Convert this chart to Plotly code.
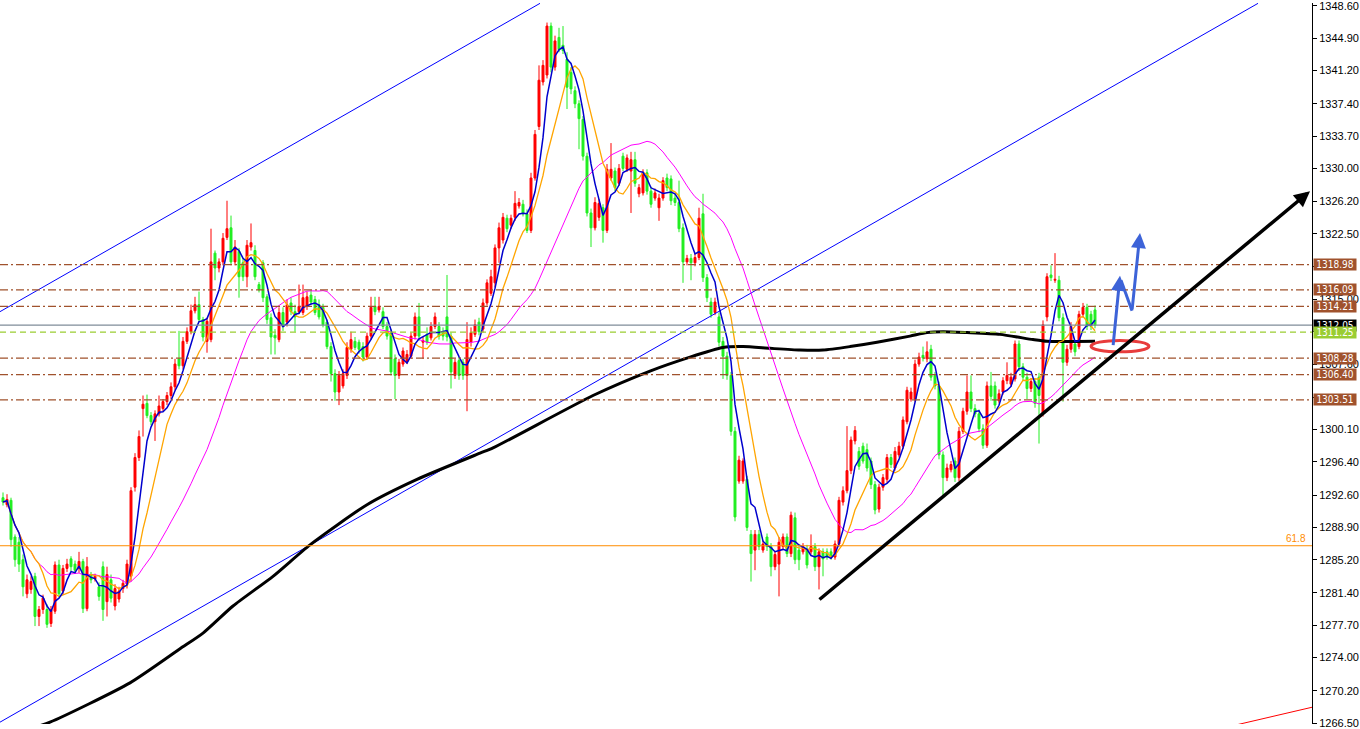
import plotly.graph_objects as go
import pandas as pd

# ---------------- data ----------------
opens = [
1292.3,1291.5,1292.0,1287.8,1287.2,1285.2,1281.3,1281.8,1283.3,1278.7,
1279.5,1279.5,1277.9,1279.3,1284.6,1281.6,1284.2,1285.3,1284.7,1284.2,
1285.0,1279.6,1283.5,1283.0,1282.1,1284.4,1280.4,1282.9,1279.9,1280.7,
1281.9,1282.4,1283.3,1293.5,1296.9,1302.5,1303.1,1301.7,1301.0,1301.9,
1302.5,1303.3,1304.0,1305.0,1308.2,1307.4,1310.2,1311.3,1313.7,1314.4,
1312.7,1310.2,1310.4,1320.3,1318.6,1319.3,1322.1,1323.2,1319.3,1320.5,
1319.2,1317.6,1321.0,1320.6,1316.7,1319.2,1315.3,1312.9,1310.9,1310.4,
1313.5,1312.4,1314.6,1313.6,1313.6,1313.5,1314.2,1315.5,1315.0,1314.4,
1314.1,1312.4,1309.6,1306.5,1304.4,1305.1,1306.3,1309.3,1310.2,1310.1,
1309.6,1308.4,1310.8,1314.2,1313.8,1313.6,1311.9,1311.2,1308.2,1306.3,
1307.6,1307.9,1308.5,1310.8,1313.0,1310.1,1311.0,1310.6,1311.9,1311.9,
1311.3,1313.0,1310.8,1306.3,1308.0,1307.8,1306.3,1310.1,1311.0,1312.4,
1311.6,1314.6,1315.7,1316.9,1320.9,1321.8,1324.3,1323.5,1324.4,1325.7,
1325.9,1324.8,1322.9,1328.9,1334.8,1339.9,1340.7,1346.3,1341.6,1345.0,
1344.1,1342.5,1341.0,1338.9,1337.4,1335.6,1331.4,1324.9,1323.2,1324.4,
1325.5,1322.9,1328.9,1329.7,1328.3,1331.4,1329.9,1329.7,1331.0,1327.1,
1327.2,1329.5,1327.4,1326.6,1325.5,1326.6,1328.9,1328.8,1326.6,1326.1,
1323.2,1319.3,1319.7,1319.2,1319.8,1324.8,1317.5,1314.7,1313.5,1313.0,
1310.2,1308.5,1306.3,1299.9,1294.2,1294.2,1294.4,1288.1,1286.3,1288.1,
1286.3,1287.8,1286.7,1284.4,1284.7,1286.7,1287.8,1285.9,1290.0,1286.3,
1286.1,1286.4,1286.1,1286.7,1284.4,1286.1,1286.1,1286.1,1285.5,1287.0,
1291.8,1293.1,1295.4,1298.8,1297.6,1298.2,1297.8,1296.5,1293.8,1291.0,
1293.5,1294.4,1296.9,1295.7,1297.2,1298.2,1301.0,1303.6,1303.6,1307.6,
1308.6,1308.2,1309.3,1306.3,1305.1,1297.2,1294.6,1295.5,1296.5,1294.6,
1299.9,1302.2,1304.4,1302.5,1301.9,1300.2,1298.3,1305.1,1305.1,1303.4,
1304.4,1305.7,1305.3,1305.9,1309.9,1307.3,1306.1,1304.8,1305.6,1306.1,
1301.9,1313.0,1317.8,1317.2,1317.2,1312.9,1307.8,1309.3,1309.9,1309.6,
1313.3,1314.1,1313.3,1313.8]

closes = [
1291.8,1292.1,1287.5,1285.2,1284.7,1282.1,1282.9,1282.7,1278.7,1279.5,
1280.8,1277.8,1279.5,1284.6,1281.3,1284.2,1284.7,1284.4,1284.0,1285.0,
1279.6,1284.4,1282.9,1283.3,1281.0,1279.5,1283.5,1280.8,1281.9,1281.6,
1282.5,1284.7,1293.1,1296.9,1299.3,1303.0,1301.7,1301.0,1301.9,1302.8,
1303.3,1304.0,1305.0,1307.6,1307.4,1310.2,1311.3,1313.7,1314.4,1312.7,
1310.7,1312.5,1319.3,1318.6,1319.3,1322.0,1323.1,1319.3,1321.0,1317.6,
1317.6,1321.2,1321.5,1317.6,1316.1,1315.2,1312.7,1310.7,1310.6,1313.5,
1311.9,1314.4,1313.6,1313.0,1314.2,1315.2,1315.3,1314.7,1313.5,1313.0,
1312.1,1309.6,1306.5,1304.4,1306.3,1306.5,1309.5,1310.4,1309.5,1309.3,
1308.4,1310.8,1314.1,1313.6,1314.2,1311.9,1310.8,1306.7,1306.3,1307.8,
1309.1,1308.7,1310.8,1313.0,1310.8,1310.3,1310.1,1311.9,1313.0,1310.8,
1310.8,1310.7,1306.7,1307.8,1306.3,1306.3,1310.4,1311.2,1312.1,1311.3,
1314.6,1316.9,1317.6,1320.9,1323.2,1324.4,1323.1,1324.3,1326.0,1326.1,
1324.8,1322.9,1328.9,1333.9,1340.1,1341.8,1346.3,1341.6,1344.6,1343.6,
1343.5,1339.3,1339.1,1337.4,1335.7,1331.4,1324.9,1323.2,1326.1,1326.0,
1322.9,1329.9,1329.9,1327.8,1330.0,1330.0,1331.2,1331.0,1328.3,1327.8,
1329.5,1327.4,1325.9,1327.2,1326.6,1328.6,1327.8,1326.3,1326.1,1323.1,
1319.3,1319.7,1319.2,1319.8,1324.3,1317.5,1315.2,1313.3,1314.7,1310.1,
1308.5,1306.3,1299.9,1290.1,1296.6,1296.5,1288.9,1285.9,1288.1,1286.7,
1287.0,1286.7,1284.4,1285.8,1287.2,1287.8,1285.9,1290.3,1285.2,1285.2,
1286.7,1284.6,1286.7,1284.4,1286.1,1285.3,1285.5,1285.5,1287.0,1292.0,
1293.1,1295.4,1298.9,1300.0,1295.9,1296.5,1295.7,1293.8,1290.9,1293.5,
1294.6,1296.9,1296.1,1297.6,1298.2,1301.2,1304.6,1304.4,1307.6,1308.4,
1308.3,1309.0,1306.1,1305.1,1297.2,1294.6,1295.7,1296.1,1294.6,1299.9,
1302.2,1304.4,1302.5,1301.9,1300.2,1298.3,1305.1,1303.9,1302.9,1304.2,
1305.7,1306.3,1306.1,1309.9,1307.3,1306.1,1304.8,1305.6,1303.1,1304.0,
1312.1,1317.6,1317.5,1317.3,1312.9,1307.8,1309.3,1311.9,1309.0,1313.3,
1314.1,1311.9,1311.9,1312.05]

highs = [
1292.9,1292.7,1292.3,1288.1,1287.8,1285.8,1283.5,1283.3,1283.7,1279.9,
1281.2,1280.1,1279.9,1285.0,1285.2,1284.6,1285.3,1285.6,1285.1,1286.1,
1285.3,1285.5,1283.8,1283.6,1282.6,1285.0,1284.4,1283.5,1282.4,1282.1,
1282.9,1285.2,1293.5,1297.4,1300.0,1304.0,1304.1,1302.1,1302.3,1304.0,
1303.6,1304.4,1305.5,1308.2,1311.4,1310.7,1311.8,1314.4,1315.3,1315.9,
1313.0,1312.9,1323.1,1320.6,1319.7,1322.6,1326.3,1324.6,1321.8,1320.9,
1319.7,1321.8,1323.7,1321.2,1317.0,1319.5,1315.6,1313.4,1311.6,1314.1,
1314.1,1315.0,1315.2,1314.4,1316.7,1316.7,1315.9,1316.1,1315.4,1315.0,
1314.5,1312.7,1310.1,1307.0,1306.8,1307.0,1310.1,1311.3,1310.7,1310.4,
1310.1,1311.2,1315.3,1315.3,1315.3,1314.1,1312.4,1311.6,1308.7,1308.2,
1309.5,1309.2,1311.2,1313.5,1314.6,1310.7,1311.8,1312.4,1313.5,1312.4,
1311.8,1317.8,1311.2,1308.2,1308.4,1308.2,1312.4,1311.8,1312.7,1312.9,
1315.1,1317.3,1318.4,1321.3,1323.8,1324.9,1324.7,1324.7,1327.4,1326.6,
1326.4,1325.3,1329.5,1334.4,1341.8,1342.4,1346.7,1346.7,1345.2,1346.1,
1346.3,1343.3,1341.6,1339.4,1337.8,1336.0,1331.8,1325.4,1326.7,1326.5,
1325.9,1330.5,1332.9,1330.1,1330.5,1331.8,1331.6,1331.9,1331.9,1328.2,
1329.9,1329.9,1327.9,1327.7,1327.1,1329.0,1329.4,1329.2,1327.1,1328.6,
1323.7,1320.1,1320.2,1320.3,1325.5,1327.1,1317.9,1315.2,1315.2,1313.5,
1310.7,1309.0,1306.7,1300.4,1297.1,1296.8,1294.8,1288.6,1288.6,1288.6,
1287.4,1288.2,1287.1,1286.2,1287.8,1288.2,1288.2,1290.7,1290.6,1286.8,
1287.1,1286.9,1288.1,1287.1,1286.5,1286.5,1286.5,1286.5,1287.4,1292.4,
1293.6,1300.5,1299.3,1300.5,1298.1,1298.6,1298.5,1296.9,1294.2,1293.9,
1295.0,1297.3,1297.3,1298.1,1298.7,1301.6,1305.0,1304.9,1308.1,1308.9,
1309.6,1310.2,1309.8,1306.7,1305.6,1297.6,1296.2,1296.5,1296.9,1300.4,
1302.6,1306.3,1306.3,1303.0,1302.4,1300.7,1305.6,1306.7,1305.6,1304.7,
1306.1,1307.8,1306.6,1310.3,1310.3,1307.7,1306.6,1306.0,1306.0,1306.6,
1312.6,1318.0,1318.9,1320.3,1317.7,1313.4,1309.8,1312.4,1310.3,1313.7,
1314.6,1314.5,1313.7,1314.3]

lows = [
1291.4,1291.2,1286.7,1284.4,1283.8,1281.0,1280.8,1281.3,1277.6,1277.6,
1279.0,1277.4,1277.5,1279.0,1281.0,1281.2,1283.8,1283.9,1283.6,1283.7,
1279.1,1279.3,1282.5,1282.7,1280.5,1278.2,1278.7,1280.3,1279.4,1280.3,
1281.4,1281.9,1282.7,1293.0,1296.5,1299.3,1301.4,1300.6,1298.8,1301.6,
1302.2,1302.9,1303.6,1304.6,1307.0,1307.0,1309.9,1311.0,1313.4,1312.4,
1310.2,1308.9,1310.1,1317.2,1318.1,1318.9,1321.8,1318.9,1318.9,1315.2,
1317.1,1316.4,1320.6,1317.2,1315.8,1314.7,1312.2,1308.7,1308.7,1310.1,
1311.4,1311.9,1313.2,1311.3,1313.3,1313.2,1313.8,1314.4,1313.2,1312.7,
1311.8,1309.3,1305.6,1303.4,1302.9,1304.8,1305.9,1308.9,1309.2,1308.8,
1307.9,1308.1,1310.4,1313.2,1313.5,1311.6,1310.4,1306.3,1303.6,1305.9,
1307.3,1307.6,1308.2,1310.4,1310.3,1308.2,1309.8,1310.3,1311.6,1310.4,
1310.3,1310.2,1304.8,1305.9,1305.8,1305.8,1302.2,1309.6,1310.7,1310.9,
1311.2,1314.3,1315.4,1316.4,1319.2,1321.4,1322.7,1323.1,1324.0,1325.4,
1324.5,1322.6,1322.6,1328.6,1334.4,1339.5,1340.3,1341.0,1341.2,1343.3,
1343.1,1336.8,1338.5,1336.9,1332.2,1330.9,1324.5,1321.0,1322.9,1324.0,
1321.5,1322.6,1328.6,1327.4,1328.0,1329.7,1329.6,1324.9,1327.9,1326.7,
1326.9,1327.0,1325.5,1326.3,1324.0,1326.3,1327.4,1325.8,1325.7,1322.7,
1316.9,1318.9,1317.2,1318.8,1319.5,1317.0,1314.7,1312.9,1313.2,1309.6,
1305.9,1305.8,1299.4,1289.6,1293.9,1293.9,1288.5,1282.7,1284.0,1286.3,
1286.0,1286.2,1283.3,1284.0,1281.0,1286.3,1285.5,1285.5,1284.7,1284.0,
1285.8,1284.2,1285.8,1283.9,1281.8,1283.3,1285.2,1285.2,1285.2,1286.7,
1291.4,1292.8,1295.0,1298.4,1295.5,1296.2,1295.3,1293.3,1290.4,1290.6,
1293.1,1294.0,1295.7,1295.4,1296.9,1297.9,1300.7,1303.3,1303.3,1307.3,
1307.9,1307.8,1305.7,1304.7,1296.7,1292.5,1294.2,1295.2,1294.1,1294.2,
1299.6,1301.8,1302.1,1301.5,1299.8,1297.9,1298.0,1303.4,1302.5,1303.1,
1304.1,1305.3,1305.0,1305.6,1306.8,1305.7,1303.6,1304.4,1302.6,1298.5,
1301.6,1312.5,1317.1,1316.9,1312.5,1303.3,1307.4,1308.9,1308.5,1309.3,
1312.9,1311.5,1311.5,1311.7]

# long moving average (black): candle index -> price
ma_long_idx = [5, 11.75, 31.75, 44.25, 50, 57.5, 67.5, 76.75, 91, 103.5, 119.25, 122.5,
               147.5, 161.75, 171.75, 180, 185, 191.75, 199.25, 205, 211.75, 218.5,
               226.75, 231, 235, 241, 249.25, 257.5, 261, 273]
ma_long_val = [1265.6, 1266.6, 1271.1, 1275.0, 1276.8, 1279.9, 1283.3, 1286.9, 1291.5, 1294.4,
               1297.4, 1298.0, 1304.0, 1306.8, 1308.4, 1309.5, 1309.6, 1309.4, 1309.2, 1309.2,
               1309.6, 1310.1, 1310.8, 1311.2, 1311.3, 1311.2, 1311.0, 1310.4, 1310.2, 1310.2]

# horizontal levels
brown_levels = [1318.98, 1316.09, 1314.21, 1308.28, 1306.40, 1303.51]
bid_level = 1312.05
green_level = 1311.25
fib_level = 1286.8
fib_label = "61.8"

# drawn objects (candle index, price)
channel_low_x = [-0.75, 313.75]
channel_low_y = [1266.6, 1348.9]
channel_up_x = [-0.75, 134.25]
channel_up_y = [1313.6, 1348.9]
trend_x = [203.75, 326.75]
trend_y = [1280.5, 1327.4]
red_line_x = [300, 330]
red_line_y = [1265.4, 1268.6]
blue_path_x = [277.5, 279.25, 279.5, 282.25, 284.25]
blue_path_y = [1309.6, 1317.7, 1317.2, 1313.7, 1322.6]
ellipse_x = [272, 286.5]
ellipse_y = [1309.0, 1310.3]

tick_vals = [1348.6, 1344.9, 1341.2, 1337.4, 1333.7, 1330.0, 1326.2, 1322.5, 1318.8, 1315.0,
             1311.3, 1307.6, 1303.8, 1300.1, 1296.4, 1292.6, 1288.9, 1285.2, 1281.4, 1277.7,
             1274.0, 1270.2, 1266.5]
# labels fully covered by price boxes in the reference are left blank
hidden_ticks = [1318.8, 1311.3, 1303.8]
tick_text = ["" if v in hidden_ticks else "%.2f" % v for v in tick_vals]

y_range = [1266.39, 1348.94]
x_range = [-0.75, 327.25]

assert len(opens) == len(closes) == len(highs) == len(lows)
idx = list(range(len(closes)))
s = pd.Series(closes)
ma5 = s.rolling(5, min_periods=1).mean()
ma10 = s.rolling(10, min_periods=1).mean()
ma30 = s.rolling(30, min_periods=1).mean()

fig = go.Figure()

fig.add_trace(go.Scatter(x=channel_low_x, y=channel_low_y, mode="lines",
                         line=dict(color="#0000ff", width=1), hoverinfo="skip"))
fig.add_trace(go.Scatter(x=channel_up_x, y=channel_up_y, mode="lines",
                         line=dict(color="#0000ff", width=1), hoverinfo="skip"))
fig.add_trace(go.Scatter(x=red_line_x, y=red_line_y, mode="lines",
                         line=dict(color="#ff0000", width=1), hoverinfo="skip"))
fig.add_trace(go.Scatter(x=ma_long_idx, y=ma_long_val, mode="lines",
                         line=dict(color="#000000", width=3, shape="spline", smoothing=0.6),
                         hoverinfo="skip"))

fig.add_trace(go.Candlestick(
    x=idx, open=opens, high=highs, low=lows, close=closes,
    increasing=dict(line=dict(color="#ff0000", width=1), fillcolor="#ff0000"),
    decreasing=dict(line=dict(color="#22ee22", width=1), fillcolor="#22ee22"),
    whiskerwidth=0, hoverinfo="skip"))

fig.add_trace(go.Scatter(x=idx, y=ma30, mode="lines",
                         line=dict(color="#ff00ff", width=1), hoverinfo="skip"))
fig.add_trace(go.Scatter(x=idx, y=ma10, mode="lines",
                         line=dict(color="#ffa500", width=1.3), hoverinfo="skip"))
fig.add_trace(go.Scatter(x=idx, y=ma5, mode="lines",
                         line=dict(color="#0000cd", width=1.5), hoverinfo="skip"))

fig.add_trace(go.Scatter(x=blue_path_x[2:4], y=blue_path_y[2:4], mode="lines",
                         line=dict(color="#3d63d8", width=3), hoverinfo="skip"))

shapes = []
dashdot = "8px,3px,2px,3px"
for lv in brown_levels:
    shapes.append(dict(type="line", xref="paper", x0=0, x1=1, yref="y", y0=lv, y1=lv,
                       line=dict(color="#a0522d", width=1.2, dash=dashdot)))
shapes.append(dict(type="line", xref="paper", x0=0, x1=1, yref="y", y0=bid_level, y1=bid_level,
                   line=dict(color="#7f8c99", width=1.2)))
shapes.append(dict(type="line", xref="paper", x0=0, x1=1, yref="y", y0=green_level, y1=green_level,
                   line=dict(color="#9acd32", width=1.2, dash="6px,4px")))
shapes.append(dict(type="line", xref="paper", x0=0, x1=1, yref="y", y0=fib_level, y1=fib_level,
                   line=dict(color="#ff8c00", width=1)))
shapes.append(dict(type="circle", xref="x", yref="y", x0=ellipse_x[0], x1=ellipse_x[1],
                   y0=ellipse_y[0], y1=ellipse_y[1], line=dict(color="#e83c3c", width=3)))

annotations = []
annotations.append(dict(x=trend_x[1], y=trend_y[1], ax=trend_x[0], ay=trend_y[0],
                        xref="x", yref="y", axref="x", ayref="y", text="", showarrow=True,
                        arrowhead=2, arrowsize=0.9, arrowwidth=3.5, arrowcolor="#000000"))
annotations.append(dict(x=blue_path_x[1], y=blue_path_y[1], ax=blue_path_x[0], ay=blue_path_y[0],
                        xref="x", yref="y", axref="x", ayref="y", text="", showarrow=True,
                        arrowhead=2, arrowsize=1, arrowwidth=3, arrowcolor="#3d63d8"))
annotations.append(dict(x=blue_path_x[4], y=blue_path_y[4], ax=blue_path_x[3], ay=blue_path_y[3],
                        xref="x", yref="y", axref="x", ayref="y", text="", showarrow=True,
                        arrowhead=2, arrowsize=1, arrowwidth=3, arrowcolor="#3d63d8"))
annotations.append(dict(x=1, y=fib_level, xref="paper", yref="y", text=fib_label, showarrow=False,
                        xanchor="right", yanchor="bottom", xshift=-4,
                        font=dict(color="#ff8c00", size=10, family="Liberation Sans")))

def box(v, bg):
    return dict(x=1, y=v, xref="paper", yref="y", text="%.2f" % v, showarrow=False,
                xanchor="left", yanchor="middle", xshift=1, width=42, height=11,
                bgcolor=bg, borderpad=0,
                font=dict(color="#ffffff", size=10, family="DejaVu Sans Condensed"))
for lv in brown_levels:
    annotations.append(box(lv, "#a0522d"))
annotations.append(box(bid_level, "#000000"))
annotations.append(box(green_level, "#9acd32"))

fig.update_layout(
    width=1360, height=729,
    margin=dict(l=0, r=48, t=0, b=0),
    paper_bgcolor="#ffffff", plot_bgcolor="#ffffff",
    showlegend=False,
    shapes=shapes, annotations=annotations,
    xaxis=dict(range=x_range, visible=False, showgrid=False, zeroline=False,
               rangeslider=dict(visible=False), fixedrange=True),
    yaxis=dict(range=y_range, side="right", showgrid=False, zeroline=False,
               showline=True, linecolor="#000000", linewidth=1,
               ticks="outside", ticklen=4, tickcolor="#000000",
               tickvals=tick_vals, ticktext=tick_text, ticklabeloverflow="allow",
               tickfont=dict(family="Liberation Sans", size=11, color="#000000")),
)

fig.write_html("out.html", config={"displayModeBar": False},
               post_script="document.body.style.margin='0px';")
